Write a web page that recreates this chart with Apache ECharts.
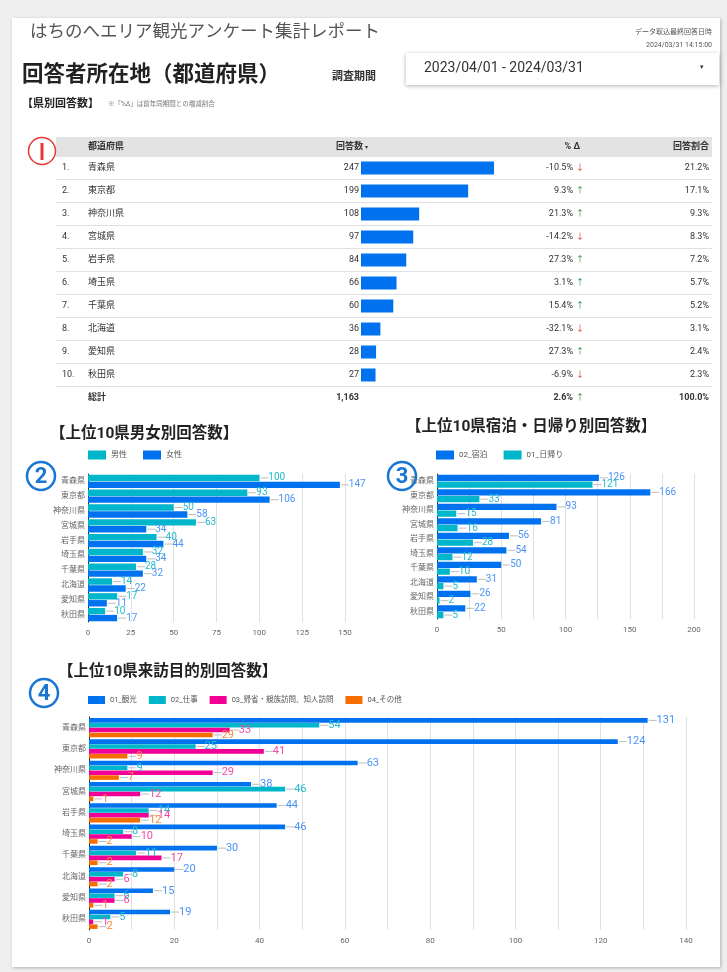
<!DOCTYPE html>
<html>
<head>
<meta charset="utf-8">
<script src="https://cdn.jsdelivr.net/npm/echarts@6/dist/echarts.min.js"></script>
<style>
  html, body { margin: 0; padding: 0; background: #eeeeee; }
  #panel { position: absolute; left: 12px; top: 18px; width: 708px; height: 949px; background: #fff; box-shadow: 1px 1px 3px rgba(0,0,0,0.25); }
  #main { position: absolute; left: 0; top: 0; width: 727px; height: 972px; }
</style>
</head>
<body>
<div id="panel"></div>
<div id="main"></div>
<script>
// table data
var prefs = ['青森県', '東京都', '神奈川県', '宮城県', '岩手県', '埼玉県', '千葉県', '北海道', '愛知県', '秋田県'];
var counts = [247, 199, 108, 97, 84, 66, 60, 36, 28, 27];
var deltas = [-10.5, 9.3, 21.3, -14.2, 27.3, 3.1, 15.4, -32.1, 27.3, -6.9];
var shares = [21.2, 17.1, 9.3, 8.3, 7.2, 5.7, 5.2, 3.1, 2.4, 2.3];
var totalCount = '1,163';
var totalDelta = 2.6;
var totalShare = 100.0;

// gender chart
var male = [100, 93, 50, 63, 40, 32, 28, 14, 17, 10];
var female = [147, 106, 58, 34, 44, 34, 32, 22, 11, 17];

// stay / day trip chart
var stay = [126, 166, 93, 81, 56, 54, 50, 31, 26, 22];
var dayTrip = [121, 33, 15, 16, 28, 12, 10, 5, 2, 5];

// purpose chart
var sightseeing = [131, 124, 63, 38, 44, 46, 30, 20, 15, 19];
var business = [54, 25, 9, 46, 14, 8, 11, 8, 6, 5];
var visiting = [33, 41, 29, 12, 14, 10, 17, 6, 6, 1];
var other = [29, 9, 7, 1, 12, 2, 2, 2, 1, 2];

var FONT = 'Roboto, "Noto Sans CJK JP", sans-serif';
var BLUE = '#0072f0', TEAL = '#00b6cb', PINK = '#f10096', ORANGE = '#f66d00';

var g = [];
function txt(x, y, s, o) {
  g.push({
    type: 'text', x: x, y: y, z: 10,
    style: Object.assign({ text: s, fill: '#333', fontSize: 9, fontFamily: FONT, align: 'left', verticalAlign: 'middle' }, o || {})
  });
}
function circ(cx, cy, r, color, w) {
  g.push({ type: 'circle', shape: { cx: cx, cy: cy, r: r }, style: { fill: 'rgba(255,255,255,0)', stroke: color, lineWidth: w }, z: 20 });
}

// header area
txt(30, 33, 'はちのへエリア観光アンケート集計レポート', { fontSize: 17.5, fill: '#555' });
txt(712, 32, 'データ取込最終回答日時', { fontSize: 7, fill: '#555', align: 'right' });
txt(712, 45, '2024/03/31 14:15:00', { fontSize: 7, fill: '#555', align: 'right' });
txt(22, 76, '回答者所在地（都道府県）', { fontSize: 21.5, fontWeight: 'bold', fill: '#222' });
txt(332, 77, '調査期間', { fontSize: 11, fontWeight: 'bold', fill: '#333' });
g.push({ type: 'rect', shape: { x: 406, y: 53, width: 313, height: 32 }, style: { fill: '#fff', shadowBlur: 4, shadowColor: 'rgba(0,0,0,0.3)', shadowOffsetY: 1 }, z: 5 });
txt(424, 68, '2023/04/01 - 2024/03/31', { fontSize: 14, fill: '#333' });
txt(700, 67, '▾', { fontSize: 7, fill: '#333' });
txt(22, 104, '【県別回答数】', { fontSize: 11, fontWeight: 'bold', fill: '#222' });
txt(108, 104, '※「%Δ」は前年同期間との増減割合', { fontSize: 6.5, fill: '#777' });

// table
var rowY0 = 168, rowH = 23;
g.push({ type: 'rect', shape: { x: 56, y: 137, width: 656, height: 20 }, style: { fill: '#e3e3e3' }, z: 1 });
txt(88, 147, '都道府県', { fontWeight: 'bold' });
txt(336, 147, '回答数', { fontWeight: 'bold' });
txt(365, 147, '▾', { fontSize: 6 });
txt(580, 147, '% Δ', { fontWeight: 'bold', align: 'right' });
txt(709, 147, '回答割合', { fontWeight: 'bold', align: 'right' });
prefs.forEach(function (p, i) {
  var y = rowY0 + i * rowH;
  txt(62, y, (i + 1) + '.');
  txt(88, y, p);
  var up = deltas[i] >= 0;
  txt(573, y, deltas[i].toFixed(1) + '%', { align: 'right' });
  txt(576, y, up ? '↑' : '↓', { fill: up ? '#1e8e3e' : '#d93025', fontSize: 8 });
  txt(709, y, shares[i].toFixed(1) + '%', { align: 'right' });
  g.push({ type: 'line', shape: { x1: 56, y1: y + 11.5, x2: 712, y2: y + 11.5 }, style: { stroke: '#e0e0e0', lineWidth: 1 }, z: 1 });
});
var ty = rowY0 + 10 * rowH;
txt(88, ty, '総計', { fontWeight: 'bold' });
txt(359, ty, totalCount, { fontWeight: 'bold', align: 'right' });
txt(573, ty, totalDelta.toFixed(1) + '%', { fontWeight: 'bold', align: 'right' });
txt(576, ty, totalDelta >= 0 ? '↑' : '↓', { fill: totalDelta >= 0 ? '#1e8e3e' : '#d93025', fontSize: 8 });
txt(709, ty, totalShare.toFixed(1) + '%', { fontWeight: 'bold', align: 'right' });

// chart titles
txt(50, 434, '【上位10県男女別回答数】', { fontSize: 15.5, fontWeight: 'bold', fill: '#222' });
txt(406, 427, '【上位10県宿泊・日帰り別回答数】', { fontSize: 15.5, fontWeight: 'bold', fill: '#222' });
txt(58, 672, '【上位10県来訪目的別回答数】', { fontSize: 15.5, fontWeight: 'bold', fill: '#222' });

// circled markers
circ(42, 151, 13.5, '#e53935', 1.5);
g.push({ type: 'line', shape: { x1: 42, y1: 143, x2: 42, y2: 160 }, style: { stroke: '#e53935', lineWidth: 3 }, z: 20 });
[[41, 476, '2'], [402, 476, '3'], [44, 693, '4']].forEach(function (m) {
  circ(m[0], m[1], 14, '#1976d2', 2.5);
  txt(m[0], m[1] + 1, m[2], { fontSize: 22, fontWeight: 'bold', fill: '#1976d2', align: 'center' });
});

function lbl(color, size) {
  return {
    show: true, position: 'right', distance: 1, color: color, fontSize: size, fontFamily: FONT,
    formatter: '{l| }{c}',
    rich: { l: { width: 8, height: 1, backgroundColor: '#bdbdbd', verticalAlign: 'middle' } }
  };
}
function catAxis(gi) {
  return {
    type: 'category', gridIndex: gi, data: prefs, inverse: true,
    axisLine: { show: true, lineStyle: { color: '#222', width: 1 } },
    axisTick: { show: false },
    axisLabel: { fontSize: 8, color: '#666', margin: 3, fontFamily: FONT },
    splitLine: { show: false }
  };
}
function valAxis(gi, max, interval, step) {
  return {
    type: 'value', gridIndex: gi, min: 0, max: max, interval: interval,
    axisLine: { show: false }, axisTick: { show: false },
    splitLine: { show: true, lineStyle: { color: '#e0e0e0', width: 1 } },
    axisLabel: { fontSize: 8, color: '#666', margin: 7, fontFamily: FONT, formatter: function (v) { return v % step === 0 ? v : ''; } }
  };
}
function bar(name, gi, data, color, labelColor, size, gap, catGap) {
  return {
    type: 'bar', name: name, xAxisIndex: gi, yAxisIndex: gi, data: data,
    itemStyle: { color: color }, barGap: gap, barCategoryGap: catGap,
    label: lbl(labelColor, size), emphasis: { disabled: true }, animation: false
  };
}
function legend(left, top, names, w, h, fs, gap) {
  return {
    left: left, top: top, padding: 0, itemWidth: w, itemHeight: h, itemGap: gap, icon: 'rect',
    data: names, textStyle: { fontSize: fs, color: '#555', fontFamily: FONT }
  };
}

var chart = echarts.init(document.getElementById('main'), null, { renderer: 'canvas' });
chart.setOption({
  animation: false,
  backgroundColor: 'transparent',
  textStyle: { fontFamily: FONT },
  graphic: { elements: g },
  grid: [
    { left: 361, top: rowY0 - rowH / 2, width: 133, height: rowH * 10 },
    { left: 88, top: 474, width: 257, height: 148 },
    { left: 437, top: 474, width: 257, height: 145 },
    { left: 89, top: 717, width: 597, height: 213 }
  ],
  xAxis: [
    { type: 'value', gridIndex: 0, min: 0, max: Math.max.apply(null, counts), show: false },
    valAxis(1, 150, 25, 25),
    valAxis(2, 200, 25, 50),
    valAxis(3, 140, 10, 20)
  ],
  yAxis: [
    { type: 'category', gridIndex: 0, data: prefs, inverse: true, show: false },
    catAxis(1), catAxis(2), catAxis(3)
  ],
  legend: [
    legend(88, 450.5, ['男性', '女性'], 18, 9, 8, 16),
    legend(436, 450.5, ['02_宿泊', '01_日帰り'], 18, 9, 8, 16),
    legend(88, 696, ['01_観光', '02_仕事', '03_帰省・親族訪問、知人訪問', '04_その他'], 17, 8, 7.5, 12)
  ],
  series: [
    {
      type: 'bar', name: '回答数', xAxisIndex: 0, yAxisIndex: 0, data: counts, barWidth: 13,
      itemStyle: { color: BLUE }, emphasis: { disabled: true },
      label: { show: true, position: 'left', distance: 2, fontSize: 9, color: '#333', fontFamily: FONT }
    },
    bar('男性', 1, male, TEAL, '#20bcd0', 10, '8%', '10%'),
    bar('女性', 1, female, BLUE, '#4a93f5', 10, '8%', '10%'),
    bar('02_宿泊', 2, stay, BLUE, '#4a93f5', 10, '8%', '10%'),
    bar('01_日帰り', 2, dayTrip, TEAL, '#20bcd0', 10, '8%', '10%'),
    bar('01_観光', 3, sightseeing, BLUE, '#4a93f5', 11, '6%', '10%'),
    bar('02_仕事', 3, business, TEAL, '#20bcd0', 11, '6%', '10%'),
    bar('03_帰省・親族訪問、知人訪問', 3, visiting, PINK, '#f24aa8', 11, '6%', '10%'),
    bar('04_その他', 3, other, ORANGE, '#f68a3a', 11, '6%', '10%')
  ]
});
</script>
</body>
</html>
